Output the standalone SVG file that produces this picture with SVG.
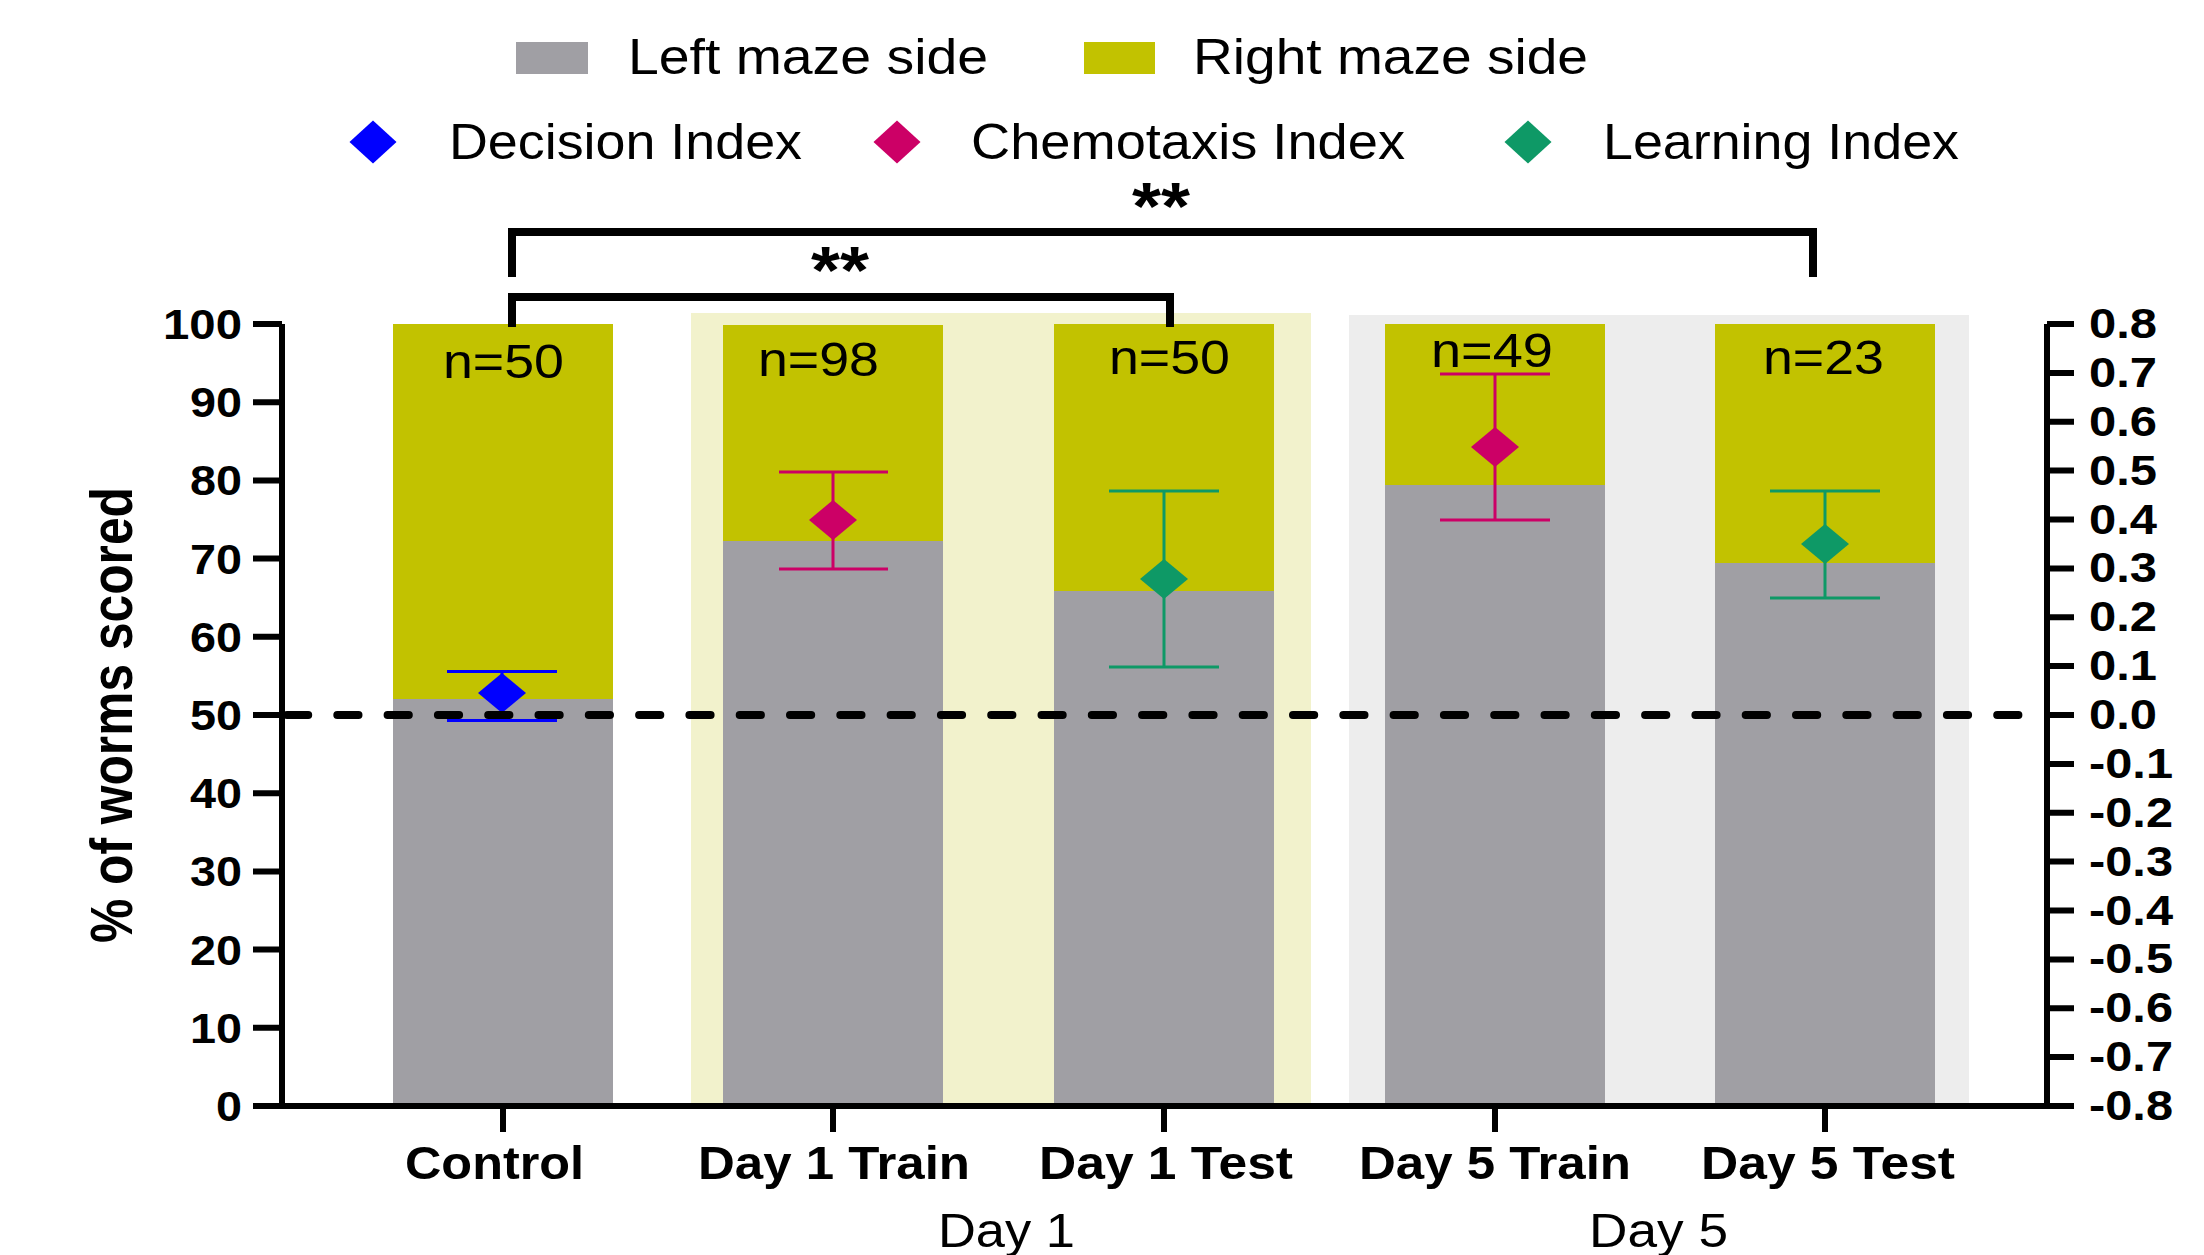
<svg xmlns="http://www.w3.org/2000/svg" width="2204" height="1255" viewBox="0 0 2204 1255">
<style>
text{font-family:"Liberation Sans",Arial,sans-serif;fill:#000}
.leg{font-size:50px}
.tick{font-size:42px;font-weight:bold}
.xl{font-size:46px;font-weight:bold}
.grp{font-size:49px}
.n{font-size:49px}
.ast{font-size:66px;font-weight:bold}
.ax{stroke:#000;stroke-width:6;fill:none}
.gray{fill:#a09fa4}
.yel{fill:#c2c200}
.eb{stroke-width:3;fill:none}
.blue{stroke:#0000ff}
.pink{stroke:#cc0066}
.green{stroke:#0e9966}
.br{stroke:#000;stroke-width:8;fill:none}
</style>
<defs>
<path id="dia" d="M0,-20 L24,0 L0,20 L-24,0 Z"/>
<path id="ldia" d="M0,-21.5 L23.5,0 L0,21.5 L-23.5,0 Z"/>
</defs>
<rect width="2204" height="1255" fill="#fff"/>

<g id="legend">
<rect x="516" y="42" width="72" height="32" class="gray"/>
<text class="leg" x="628" y="74" textLength="360" lengthAdjust="spacingAndGlyphs">Left maze side</text>
<rect x="1084" y="42" width="71" height="32" class="yel"/>
<text class="leg" x="1193" y="74" textLength="395" lengthAdjust="spacingAndGlyphs">Right maze side</text>
<use href="#ldia" x="373" y="142" fill="#0000ff"/>
<text class="leg" x="449" y="159" textLength="353" lengthAdjust="spacingAndGlyphs">Decision Index</text>
<use href="#ldia" x="897" y="142" fill="#cc0066"/>
<text class="leg" x="971" y="159" textLength="434" lengthAdjust="spacingAndGlyphs">Chemotaxis Index</text>
<use href="#ldia" x="1528" y="142" fill="#0e9966"/>
<text class="leg" x="1603" y="159" textLength="356" lengthAdjust="spacingAndGlyphs">Learning Index</text>
</g>

<g id="bands">
<rect x="691" y="313" width="620" height="793" fill="#f2f2cc"/>
<rect x="1349" y="315" width="620" height="791" fill="#ededed"/>
</g>

<g id="bar-control">
<rect x="393" y="324" width="220" height="782" class="yel"/>
<rect x="393" y="699" width="220" height="407" class="gray"/>
<text class="n" x="443" y="378" textLength="121" lengthAdjust="spacingAndGlyphs">n=50</text>
</g>
<g id="bar-day1-train">
<rect x="723" y="325" width="220" height="781" class="yel"/>
<rect x="723" y="541" width="220" height="565" class="gray"/>
<text class="n" x="758" y="376" textLength="121" lengthAdjust="spacingAndGlyphs">n=98</text>
</g>
<g id="bar-day1-test">
<rect x="1054" y="324" width="220" height="782" class="yel"/>
<rect x="1054" y="591" width="220" height="515" class="gray"/>
<text class="n" x="1109" y="374" textLength="121" lengthAdjust="spacingAndGlyphs">n=50</text>
</g>
<g id="bar-day5-train">
<rect x="1385" y="324" width="220" height="782" class="yel"/>
<rect x="1385" y="485" width="220" height="621" class="gray"/>
<text class="n" x="1431" y="367" textLength="122" lengthAdjust="spacingAndGlyphs">n=49</text>
</g>
<g id="bar-day5-test">
<rect x="1715" y="324" width="220" height="782" class="yel"/>
<rect x="1715" y="563" width="220" height="543" class="gray"/>
<text class="n" x="1763" y="374" textLength="121" lengthAdjust="spacingAndGlyphs">n=23</text>
</g>

<g id="index-points">
<g id="pt-control">
<path class="eb blue" d="M447,671.5H557M502,671.5V720.5M447,720.5H557"/>
<use href="#dia" x="502" y="693" fill="#0000ff"/>
</g>
<g id="pt-day1-train">
<path class="eb pink" d="M779,472H888M833,472V569M779,569H888"/>
<use href="#dia" x="833" y="520" fill="#cc0066"/>
</g>
<g id="pt-day1-test">
<path class="eb green" d="M1109,491H1219M1164,491V667M1109,667H1219"/>
<use href="#dia" x="1164" y="579" fill="#0e9966"/>
</g>
<g id="pt-day5-train">
<path class="eb pink" d="M1440,374H1550M1495,374V520M1440,520H1550"/>
<use href="#dia" x="1495" y="447" fill="#cc0066"/>
</g>
<g id="pt-day5-test">
<path class="eb green" d="M1770,491H1880M1825,491V598M1770,598H1880"/>
<use href="#dia" x="1825" y="544" fill="#0e9966"/>
</g>
</g>

<g id="connectors">
<line x1="287" y1="715" x2="2030" y2="715" stroke="#000" stroke-width="8" stroke-linecap="round" stroke-dasharray="21.2 29.1"/>
<path class="br" d="M512,327V297H1170V327"/>
<path class="br" d="M512,277V232H1813V277"/>
</g>
<g id="significance">
<text class="ast" x="811" y="293" textLength="58" lengthAdjust="spacingAndGlyphs">**</text>
<text class="ast" x="1132" y="229" textLength="58" lengthAdjust="spacingAndGlyphs">**</text>
</g>

<g id="left-axis">
<path class="ax" d="M282,324V1106M253,324H282M253,402.2H282M253,480.4H282M253,558.6H282M253,636.8H282M253,715H282M253,793.2H282M253,871.4H282M253,949.6H282M253,1027.8H282"/>
<text class="tick" x="163" y="339" textLength="79" lengthAdjust="spacingAndGlyphs">100</text>
<text class="tick" x="190" y="417" textLength="52" lengthAdjust="spacingAndGlyphs">90</text>
<text class="tick" x="190" y="495" textLength="52" lengthAdjust="spacingAndGlyphs">80</text>
<text class="tick" x="190" y="573.6" textLength="52" lengthAdjust="spacingAndGlyphs">70</text>
<text class="tick" x="190" y="651.8" textLength="52" lengthAdjust="spacingAndGlyphs">60</text>
<text class="tick" x="190" y="730" textLength="52" lengthAdjust="spacingAndGlyphs">50</text>
<text class="tick" x="190" y="808.2" textLength="52" lengthAdjust="spacingAndGlyphs">40</text>
<text class="tick" x="190" y="886.4" textLength="52" lengthAdjust="spacingAndGlyphs">30</text>
<text class="tick" x="190" y="964.6" textLength="52" lengthAdjust="spacingAndGlyphs">20</text>
<text class="tick" x="190" y="1042.8" textLength="52" lengthAdjust="spacingAndGlyphs">10</text>
<text class="tick" x="216" y="1121" textLength="26" lengthAdjust="spacingAndGlyphs">0</text>
<text transform="translate(132,943) scale(1.2,1) rotate(-90)" x="0" y="0" font-size="50" font-weight="bold" textLength="456" lengthAdjust="spacingAndGlyphs">% of worms scored</text>
</g>

<g id="right-axis">
<path class="ax" d="M2047,324V1106M2047,324H2074M2047,372.9H2074M2047,421.8H2074M2047,470.6H2074M2047,519.5H2074M2047,568.4H2074M2047,617.3H2074M2047,666.1H2074M2047,715H2074M2047,763.9H2074M2047,812.8H2074M2047,861.6H2074M2047,910.5H2074M2047,959.4H2074M2047,1008.3H2074M2047,1057.1H2074"/>
<text class="tick" x="2089" y="338" textLength="68" lengthAdjust="spacingAndGlyphs">0.8</text>
<text class="tick" x="2089" y="386.9" textLength="68" lengthAdjust="spacingAndGlyphs">0.7</text>
<text class="tick" x="2089" y="435.8" textLength="68" lengthAdjust="spacingAndGlyphs">0.6</text>
<text class="tick" x="2089" y="484.6" textLength="68" lengthAdjust="spacingAndGlyphs">0.5</text>
<text class="tick" x="2089" y="533.5" textLength="68" lengthAdjust="spacingAndGlyphs">0.4</text>
<text class="tick" x="2089" y="582.4" textLength="68" lengthAdjust="spacingAndGlyphs">0.3</text>
<text class="tick" x="2089" y="631.3" textLength="68" lengthAdjust="spacingAndGlyphs">0.2</text>
<text class="tick" x="2089" y="680.1" textLength="68" lengthAdjust="spacingAndGlyphs">0.1</text>
<text class="tick" x="2089" y="729" textLength="68" lengthAdjust="spacingAndGlyphs">0.0</text>
<text class="tick" x="2089" y="777.9" textLength="84" lengthAdjust="spacingAndGlyphs">-0.1</text>
<text class="tick" x="2089" y="826.8" textLength="84" lengthAdjust="spacingAndGlyphs">-0.2</text>
<text class="tick" x="2089" y="875.6" textLength="84" lengthAdjust="spacingAndGlyphs">-0.3</text>
<text class="tick" x="2089" y="924.5" textLength="84" lengthAdjust="spacingAndGlyphs">-0.4</text>
<text class="tick" x="2089" y="973.4" textLength="84" lengthAdjust="spacingAndGlyphs">-0.5</text>
<text class="tick" x="2089" y="1022.3" textLength="84" lengthAdjust="spacingAndGlyphs">-0.6</text>
<text class="tick" x="2089" y="1071.1" textLength="84" lengthAdjust="spacingAndGlyphs">-0.7</text>
<text class="tick" x="2089" y="1120" textLength="84" lengthAdjust="spacingAndGlyphs">-0.8</text>
</g>

<g id="x-axis">
<path class="ax" d="M253,1106H2074M503,1106V1132M833,1106V1132M1164,1106V1132M1495,1106V1132M1825,1106V1132"/>
<text class="xl" x="405" y="1179" textLength="179" lengthAdjust="spacingAndGlyphs">Control</text>
<text class="xl" x="698" y="1179" textLength="272" lengthAdjust="spacingAndGlyphs">Day 1 Train</text>
<text class="xl" x="1039" y="1179" textLength="254" lengthAdjust="spacingAndGlyphs">Day 1 Test</text>
<text class="xl" x="1359" y="1179" textLength="272" lengthAdjust="spacingAndGlyphs">Day 5 Train</text>
<text class="xl" x="1701" y="1179" textLength="254" lengthAdjust="spacingAndGlyphs">Day 5 Test</text>
<text class="grp" x="938" y="1247" textLength="137" lengthAdjust="spacingAndGlyphs">Day 1</text>
<text class="grp" x="1589" y="1247" textLength="139" lengthAdjust="spacingAndGlyphs">Day 5</text>
</g>
</svg>
